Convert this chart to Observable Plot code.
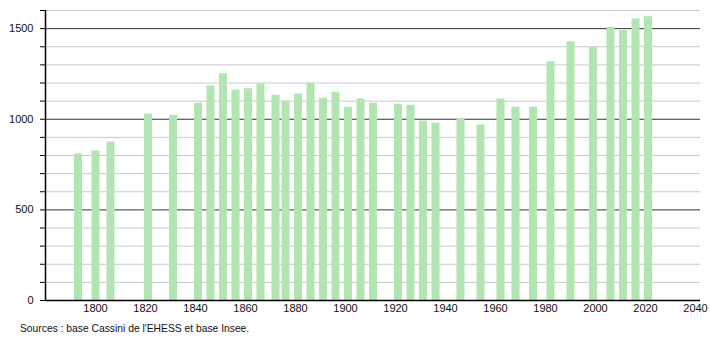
<!DOCTYPE html>
<html><head><meta charset="utf-8">
<script src="https://cdn.jsdelivr.net/npm/d3@7"></script>
<script src="https://cdn.jsdelivr.net/npm/@observablehq/plot@0.6"></script>
<style>
body{margin:0;background:#fff;font-family:"Liberation Sans",Arial,sans-serif;}
#cap{font-size:10.3px;line-height:14px;padding-top:4px;margin-left:20px;color:#111;}
</style>
</head><body>
<div id="chart"></div>
<div id="cap">Sources : base Cassini de l'EHESS et base Insee.</div>
<script>
const years = [1793,1800,1806,1821,1831,1841,1846,1851,1856,1861,1866,1872,1876,1881,1886,1891,1896,1901,1906,1911,1921,1926,1931,1936,1946,1954,1962,1968,1975,1982,1990,1999,2006,2011,2016,2021];
const population = [808,825,874,1029,1022,1088,1184,1251,1162,1168,1195,1133,1100,1140,1199,1116,1149,1066,1112,1088,1083,1077,990,978,1002,968,1112,1066,1066,1317,1428,1396,1507,1489,1553,1566];
const xTicks = [1800,1820,1840,1860,1880,1900,1920,1940,1960,1980,2000,2020,2040];
const yLabels = [0,500,1000,1500];
const yMinor = d3.range(100,1700,100);

const data = years.map((y,i)=>({year:y,pop:population[i]}));

const chart = Plot.plot({
  width:710, height:318,
  marginLeft:45, marginRight:10, marginTop:10, marginBottom:18,
  style:{fontFamily:"Liberation Sans, Arial, sans-serif", fontSize:"11px", color:"#111", background:"#fff"},
  x:{domain:[1780,2042]},
  y:{domain:[0,1600]},
  marks:[
    Plot.ruleY(yMinor.filter(v=>v%500!==0), {stroke:"#c8c8c8", strokeWidth:1}),
    Plot.ruleY(yLabels.filter(v=>v>0), {stroke:"#333", strokeWidth:1}),
    Plot.ruleX(data, {x:"year", y1:0, y2:"pop", stroke:"#b2e5b2", strokeWidth:8}),
    Plot.axisY(d3.range(0,1700,100), {tickFormat:d=>yLabels.includes(d)?String(d):"", tickSize:5, tickPadding:7, label:null, stroke:"#000"}),
    Plot.axisX(xTicks, {tickFormat:d=>String(d), tickSize:0, tickPadding:4, label:null}),
    Plot.ruleX([1780], {y1:0, y2:1600, stroke:"#000", strokeWidth:1.5}),
    Plot.ruleY([0], {stroke:"#000", strokeWidth:1.5})
  ]
});
document.getElementById("chart").appendChild(chart);
</script>
</body></html>
